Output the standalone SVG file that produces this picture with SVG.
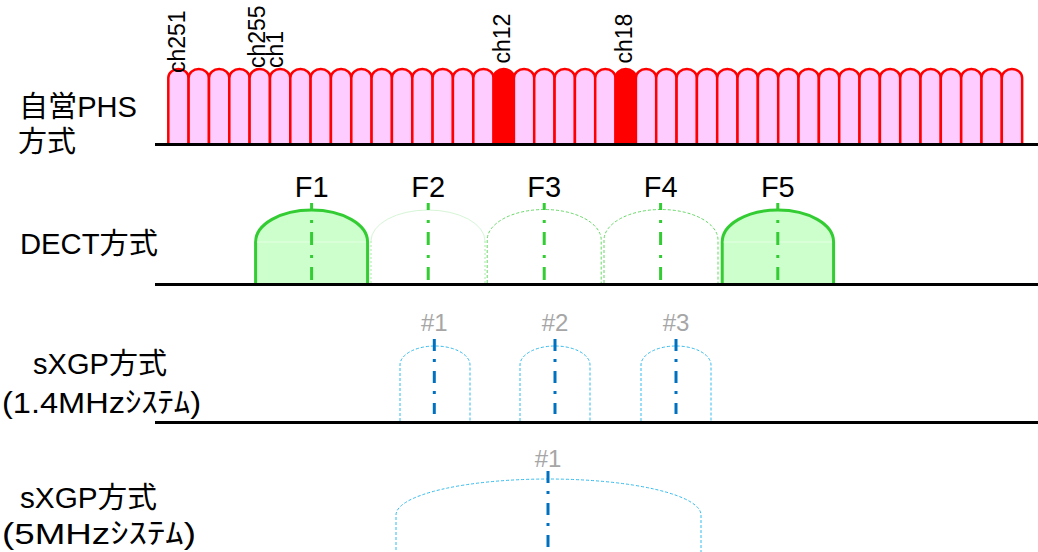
<svg xmlns="http://www.w3.org/2000/svg" xmlns:xlink="http://www.w3.org/1999/xlink" width="1038" height="552" viewBox="0 0 1038 552">
<style>
  .lbl { font-family: "Liberation Sans", "Noto Sans CJK JP", sans-serif; fill: #000; }
  .big { font-size: 29px; }
  .chl { font-family: "Liberation Sans", sans-serif; font-size: 23px; fill: #000; }
  .fl { font-family: "Liberation Sans", sans-serif; font-size: 29px; fill: #000; text-anchor: middle; }
  .nl { font-family: "Liberation Sans", sans-serif; font-size: 24px; fill: #A6A6A6; text-anchor: middle; }
  .base { stroke: #000; stroke-width: 3; fill: none; }
  .pch { fill: #FFCCFF; stroke: #FF0000; stroke-width: 2.5; }
  .rch { fill: #FF0000; stroke: #FF0000; stroke-width: 2.5; }
  .dfill { fill: #CCFFCC; stroke: #33CC33; stroke-width: 3; }
  .ddash { fill: none; stroke: #66D966; stroke-width: 1; stroke-dasharray: 3 2; }
  .dfaint { fill: none; stroke: #D6F5D6; stroke-width: 1; }
  .dfaintside { fill: none; stroke: #A8E8A8; stroke-width: 1; stroke-dasharray: 2 2; }
  .gc { stroke: #33CC33; stroke-width: 3; stroke-dasharray: 13 10 3 9; fill: none; }
  .bdash { fill: none; stroke: #33BBEE; stroke-width: 1; stroke-dasharray: 3 2; }
  .bc { stroke: #0070C0; stroke-width: 3; stroke-dasharray: 12 8 3 9; fill: none; }
</style>
<defs>
  <path id="ch" d="M0,144 V78 A10.165 9 0 0 1 20.33,78 V144"/>
</defs>

<g id="labels">
  <text class="lbl big" x="19" y="117" textLength="118" lengthAdjust="spacingAndGlyphs">自営PHS</text>
  <text class="lbl big" x="18" y="152">方式</text>
  <text class="lbl big" x="20" y="254" textLength="138" lengthAdjust="spacingAndGlyphs">DECT方式</text>
  <text class="lbl big" x="33" y="374" textLength="134" lengthAdjust="spacingAndGlyphs">sXGP方式</text>
  <text class="lbl big" x="2" y="413" textLength="199" lengthAdjust="spacingAndGlyphs">(1.4MHzｼｽﾃﾑ)</text>
  <text class="lbl big" x="20" y="508" textLength="137" lengthAdjust="spacingAndGlyphs">sXGP方式</text>
  <text class="lbl big" x="2" y="544" textLength="194" lengthAdjust="spacingAndGlyphs">(5MHzｼｽﾃﾑ)</text>
</g>

<g id="phs">
  <g id="phs-channels">
    <use href="#ch" class="pch" x="168.3"/>
    <use href="#ch" class="pch" x="188.6"/>
    <use href="#ch" class="pch" x="209.0"/>
    <use href="#ch" class="pch" x="229.3"/>
    <use href="#ch" class="pch" x="249.6"/>
    <use href="#ch" class="pch" x="270.0"/>
    <use href="#ch" class="pch" x="290.3"/>
    <use href="#ch" class="pch" x="310.6"/>
    <use href="#ch" class="pch" x="330.9"/>
    <use href="#ch" class="pch" x="351.3"/>
    <use href="#ch" class="pch" x="371.6"/>
    <use href="#ch" class="pch" x="391.9"/>
    <use href="#ch" class="pch" x="412.3"/>
    <use href="#ch" class="pch" x="432.6"/>
    <use href="#ch" class="pch" x="452.9"/>
    <use href="#ch" class="pch" x="473.3"/>
    <use href="#ch" class="rch" x="493.6"/>
    <use href="#ch" class="pch" x="513.9"/>
    <use href="#ch" class="pch" x="534.2"/>
    <use href="#ch" class="pch" x="554.6"/>
    <use href="#ch" class="pch" x="574.9"/>
    <use href="#ch" class="pch" x="595.2"/>
    <use href="#ch" class="rch" x="615.6"/>
    <use href="#ch" class="pch" x="635.9"/>
    <use href="#ch" class="pch" x="656.2"/>
    <use href="#ch" class="pch" x="676.6"/>
    <use href="#ch" class="pch" x="696.9"/>
    <use href="#ch" class="pch" x="717.2"/>
    <use href="#ch" class="pch" x="737.5"/>
    <use href="#ch" class="pch" x="757.9"/>
    <use href="#ch" class="pch" x="778.2"/>
    <use href="#ch" class="pch" x="798.5"/>
    <use href="#ch" class="pch" x="818.9"/>
    <use href="#ch" class="pch" x="839.2"/>
    <use href="#ch" class="pch" x="859.5"/>
    <use href="#ch" class="pch" x="879.9"/>
    <use href="#ch" class="pch" x="900.2"/>
    <use href="#ch" class="pch" x="920.5"/>
    <use href="#ch" class="pch" x="940.8"/>
    <use href="#ch" class="pch" x="961.2"/>
    <use href="#ch" class="pch" x="981.5"/>
    <use href="#ch" class="pch" x="1001.8"/>
  </g>
  <line class="base" x1="155" y1="144.5" x2="1038" y2="144.5"/>
  <g id="phs-labels">
    <text class="chl" transform="translate(185,73) rotate(-90)">ch251</text>
    <text class="chl" transform="translate(265,68) rotate(-90)">ch255</text>
    <text class="chl" transform="translate(283,68) rotate(-90)">ch1</text>
    <text class="chl" transform="translate(510,63.5) rotate(-90)">ch12</text>
    <text class="chl" transform="translate(632,63.5) rotate(-90)">ch18</text>
  </g>
</g>

<g id="dect">
  <g id="dect-F1">
    <path class="dfill" d="M255.6,283 V242 A56 32 0 0 1 367.6,242 V283"/>
    <line x1="257" y1="242" x2="366" y2="242" stroke="#E6FFE6" stroke-width="1"/>
    <line class="gc" x1="311.6" y1="203" x2="311.6" y2="281" stroke-dashoffset="6"/>
    <text class="fl" x="311.6" y="197">F1</text>
  </g>
  <g id="dect-F2">
    <path class="dfaint" d="M371,241 A57 31 0 0 1 485,241"/>
    <path class="dfaintside" d="M371,283 V241 M485,283 V241"/>
    <line class="gc" x1="428.2" y1="203" x2="428.2" y2="281" stroke-dashoffset="6"/>
    <text class="fl" x="428.2" y="197">F2</text>
  </g>
  <g id="dect-F3">
    <path class="ddash" d="M487.2,283 V240 A57 30.5 0 0 1 601.2,240 V283"/>
    <line class="gc" x1="544.2" y1="203" x2="544.2" y2="281" stroke-dashoffset="6"/>
    <text class="fl" x="544.2" y="197">F3</text>
  </g>
  <g id="dect-F4">
    <path class="ddash" d="M604,283 V240 A57 30.5 0 0 1 718,240 V283"/>
    <line class="gc" x1="660.6" y1="203" x2="660.6" y2="281" stroke-dashoffset="6"/>
    <text class="fl" x="660.6" y="197">F4</text>
  </g>
  <g id="dect-F5">
    <path class="dfill" d="M722.2,283 V242 A55.7 32 0 0 1 833.6,242 V283"/>
    <line x1="723.7" y1="242" x2="832" y2="242" stroke="#E6FFE6" stroke-width="1"/>
    <line class="gc" x1="777.8" y1="203" x2="777.8" y2="281" stroke-dashoffset="6"/>
    <text class="fl" x="777.8" y="197">F5</text>
  </g>
  <line class="base" x1="155" y1="284.5" x2="1038" y2="284.5"/>
</g>

<g id="sxgp14">
  <g id="sxgp14-1">
    <path class="bdash" d="M400,421 V365 A35 19 0 0 1 470,365 V421"/>
    <line class="bc" x1="434.3" y1="339" x2="434.3" y2="414"/>
    <text class="nl" x="434.3" y="331">#1</text>
  </g>
  <g id="sxgp14-2">
    <path class="bdash" d="M520,421 V365 A35 19 0 0 1 590,365 V421"/>
    <line class="bc" x1="555" y1="339" x2="555" y2="414"/>
    <text class="nl" x="555" y="331">#2</text>
  </g>
  <g id="sxgp14-3">
    <path class="bdash" d="M641,421 V365 A35 19 0 0 1 711,365 V421"/>
    <line class="bc" x1="676" y1="339" x2="676" y2="414"/>
    <text class="nl" x="676" y="331">#3</text>
  </g>
  <line class="base" x1="155" y1="422.5" x2="1038" y2="422.5"/>
</g>

<g id="sxgp5">
  <g id="sxgp5-1">
    <path class="bdash" d="M396,560 V515 A152.5 36 0 0 1 701,515 V560"/>
    <line class="bc" x1="548" y1="471" x2="548" y2="552"/>
    <text class="nl" x="548" y="467">#1</text>
  </g>
</g>
</svg>
